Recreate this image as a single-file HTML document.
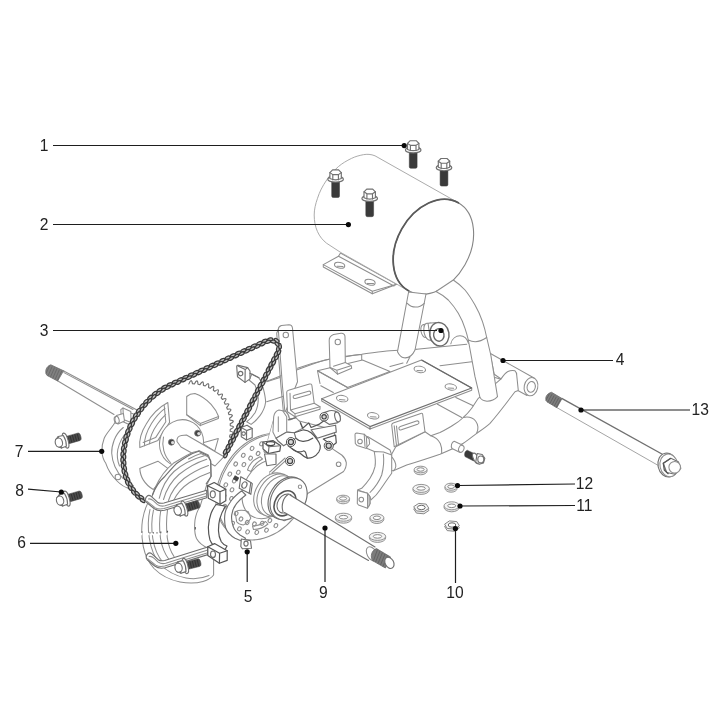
<!DOCTYPE html>
<html><head><meta charset="utf-8">
<style>
html,body{margin:0;padding:0;background:#fff;}
body{width:720px;height:720px;overflow:hidden;font-family:"Liberation Sans",sans-serif;}
svg{display:block;position:absolute;left:0;top:0;filter:blur(.45px);}
.l{stroke:#8e8e8e;stroke-width:1.05;fill:none;stroke-linecap:round;stroke-linejoin:round;}
.lw{stroke:#8e8e8e;stroke-width:1.05;fill:#fff;stroke-linecap:round;stroke-linejoin:round;}
.m{stroke:#707070;stroke-width:1.15;fill:none;stroke-linecap:round;stroke-linejoin:round;}
.mw{stroke:#707070;stroke-width:1.15;fill:#fff;stroke-linecap:round;stroke-linejoin:round;}
.d{stroke:#555;stroke-width:1.2;fill:none;stroke-linecap:round;stroke-linejoin:round;}
.dw{stroke:#555;stroke-width:1.2;fill:#fff;stroke-linecap:round;stroke-linejoin:round;}
.k{fill:#3a3a3a;stroke:#3a3a3a;stroke-width:.5;stroke-linejoin:round;}
.ld{stroke:#1e1e1e;stroke-width:1.2;fill:none;}
.dot{fill:#0a0a0a;}
text{font-family:"Liberation Sans",sans-serif;font-size:15.6px;fill:#222;}
</style></head><body>
<svg width="720" height="720" viewBox="0 0 720 720">
<rect width="720" height="720" fill="#fff"/>
<defs>
<g id="bolt">
<rect class="k" x="-3.9" y="1" width="7.8" height="17.3" rx="1.6"/>
<ellipse class="mw" cx="0" cy="0" rx="7.8" ry="2.9"/>
<path class="mw" d="M-5.7-.6V-6.6L-3-9.3H3L5.7-6.6V-.6Q0 2-5.7-.6Z"/>
<path class="m" d="M-5.7-6.6L-2.8-4.6H2.8L5.7-6.6M-2.8-4.6V.6M2.8-4.6V.6"/>
</g>
</defs>
<!-- 10_tank.svg -->
<g id="tank">
<!-- bracket under tank -->
<path class="lw" d="M323.3 264.6L338.5 256.2L340.5 253L396.8 284.3L372.3 293.8L323.3 267Z"/>
<path class="l" d="M323.3 264.6L372.3 291.2L396.8 284.3M372.3 291.2V293.8M338.5 256.2L394 286"/>
<ellipse class="l" cx="339.6" cy="265.2" rx="5.2" ry="2.8" transform="rotate(12 339.6 265.2)"/>
<ellipse class="l" cx="370" cy="282.3" rx="5.2" ry="2.8" transform="rotate(12 370 282.3)"/>
<path class="l" d="M337 266.3L343 266.5M367.5 283.4L373.5 283.6"/>
<!-- body -->
<path class="lw" style="stroke:#a6a6a6;stroke-width:.95" d="M458.3 202.8L375 155.8C371 154.2 367 154 363.3 154.7C359 155.5 355 156.7 351.7 158.3C346.5 160.8 342 163.5 338.3 166.7C334 170.5 330 175 326.7 180C322.5 186 319.5 192 317.5 198.3C315.5 204 314.2 209.5 314.2 215C314.2 221 315.2 226.5 317.5 231.7C319.7 236.5 322.8 240.3 326.7 243.3L340.8 252.5L408.5 290.8Z"/>
<!-- front face -->
<ellipse cx="433.4" cy="246.8" rx="36.3" ry="50.5" transform="rotate(29.5 433.4 246.8)" fill="#fff" stroke="#858585" stroke-width="1.1"/>
<path d="M458.3 202.8A36.3 50.5 29.5 0 0 408.5 290.8" fill="none" stroke="#5a5a5a" stroke-width="1.8" stroke-linecap="round"/>
<!-- bolts -->
<use href="#bolt" x="413.2" y="150"/>
<use href="#bolt" x="444" y="167.8"/>
<use href="#bolt" x="335.6" y="179.2"/>
<use href="#bolt" x="369.7" y="198.4"/>
</g>

<!-- 20_frame.svg -->
<g id="frame">
<!-- rear curved tube -->
<path class="l" d="M264 382C266 381.3 268 380.7 270 380C280 376.5 288 373 296.7 370C306 366.5 315 363 325 360C338 357 350 355.3 361.7 354.2C372 353 381 351.5 390 350.8L416.7 349.2"/>
<path class="l" d="M297.5 368.3C308 364.5 318 361.5 329.2 359.2M345.8 356.7C351 355.6 356 354.8 361.7 354.6V360"/>
<path class="l" d="M266.7 381.7L280 377.5M266.7 401.7L283.5 396.2"/>
<!-- rear straight cross tube + bump -->
<path class="l" d="M416.7 349.2L466.7 344.2M440 365.8L471.7 361.7M450.8 343.8C452 338.5 456 335.8 460 335.8C464 335.8 467 338.5 468.5 343.3"/>
<path class="l" d="M406.7 363.3L410 356.7M403 363L390 366.5"/>
<!-- right tube (4) -->
<path class="lw" d="M490 353.3L534.5 378.2L527 395.5L518.3 390.8L494.2 374.2Z"/>
<ellipse class="lw" cx="531" cy="386.7" rx="6.8" ry="9.2" transform="rotate(12 531 386.7)"/>
<ellipse class="l" cx="531.2" cy="386.9" rx="4.1" ry="5.4" transform="rotate(12 531.2 386.9)"/>
<!-- lower U tube right part -->
<path class="lw" d="M495.8 383.3L500.8 379.2C503 376 505 373 507.5 371.7C510 370.5 513 370.3 515 370.8C516.3 372 516.7 373.5 516.7 375L518.3 390.5L515 391.7L510 398.3C503 407.5 497 415.5 490 423.3C486 427 481 430.3 476.7 433.3C472 436.8 468 440.3 463.3 443.3C456 447.5 448 451 440 454.2C429 458 418 461.5 406.7 465L393.3 470.8C388 471 385 467 385 463.3C385.2 459.5 388 457.5 390.8 455.8L395.8 446.7L425 431.7L430.8 435.8L440 432.5C444.5 430.2 449 427.8 453.3 425C457 422.8 460.5 420.3 463.3 417.5C466.5 414.6 469.3 411.6 471.7 408.3C474 405 476 401.6 478.3 398.3Z"/>
<path class="l" d="M495 377.5L500.8 379.2M463.3 417.5C468 416.5 473 418 475.6 421C478.2 424.5 478.5 429 476.7 433.3M430.8 435.8C435 437 438.5 440 440.3 443.5C441.8 447 442 450.5 441.7 453.5"/>
<path class="l" d="M390.8 455.8C394 459 396 463 395.8 466.5C395.5 468.5 394.5 470 393.3 470.8M437.5 404.2L461.7 417.5M455.8 397.5L473.3 405.8"/>
<!-- stub + small bolt -->
<path class="lw" d="M454.2 441.3L462.8 445.3L459.6 452.2L452 448.5C450.5 446 451.5 442.5 454.2 441.3Z"/>
<ellipse class="lw" cx="461.3" cy="448.8" rx="2.6" ry="3.6" transform="rotate(20 461.3 448.8)"/>
<g transform="translate(1.2 1)">
<path class="k" d="M466 449.2L475.5 453.8L472.5 460L463.8 455.6C462.8 453 463.6 450.2 466 449.2Z"/>
<ellipse class="mw" cx="474.6" cy="457.3" rx="2.4" ry="5.6" transform="rotate(-25 474.6 457.3)"/>
<path class="mw" d="M476 452.5L481 453.5L483.6 457.3L482.2 462L478 463.3L474.5 461.2Z"/>
<ellipse class="mw" cx="479.6" cy="458.4" rx="3" ry="3.4"/>
</g>
<!-- arch tube -->
<path class="lw" d="M436 291.5C440 293.5 444 296 448.3 300C452 304 455.5 308.5 458.3 313.3C461 318 463.3 323 465 328.3C466.3 332 467.4 336 468.3 340L475 376.7L480 397.5C481.5 400 484 401 487 401.2C491 401.2 495 399.5 497.5 396.7L490.8 355L486.7 337.5C485.6 332 484.2 326.8 482.5 321.7C480.5 315.8 478 310.2 475 305C472 299.8 468.8 294.6 465 290C461.5 286 457.5 282.8 453.3 280Z"/>
<path class="l" d="M468.3 340C474 342.8 481 341.5 486.7 337.5"/>
<!-- post -->
<path class="lw" d="M408.6 292L397.5 351.7C399 355 401 357.2 404 357.8C408 358.3 412.5 355.5 415 350L426 294Z"/>
<path class="l" d="M407.3 303.3C412 308.3 419 308.3 424.3 303.3"/>
<!-- bushing 3 -->
<ellipse class="lw" cx="424.6" cy="331" rx="3.6" ry="6.6" transform="rotate(-12 424.6 331)"/>
<path class="lw" d="M424 324.5L431 323L433 340L426 337.6Z" stroke="none"/>
<ellipse class="lw" cx="428.6" cy="331.7" rx="4.6" ry="8.6" transform="rotate(-12 428.6 331.7)"/>
<path class="lw" d="M428 323.2L437 322.5L439 345L430.5 340.2Z" stroke="none"/>
<ellipse cx="439.4" cy="334.2" rx="9.6" ry="11.8" transform="rotate(-10 439.4 334.2)" fill="#fff" stroke="#6a6a6a" stroke-width="1.4"/>
<ellipse cx="438.8" cy="335" rx="5.2" ry="6.2" transform="rotate(-10 438.8 335)" fill="none" stroke="#6a6a6a" stroke-width="1.4"/>

<!-- box behind plate -->
<path class="lw" d="M317.5 370.8L362.5 360C372 364 381 368 390 371.5L347.5 387.5Z"/>
<path class="l" d="M317.5 370.8L320 383.5M320.8 385.8L333.3 392.5M317.5 370.8L347.5 387.5"/>
<!-- plate -->
<path class="lw" d="M321.7 398.8L421.5 360L471.7 388V390.3L370 429L321.7 401Z"/>
<path d="M421.5 360L471.7 388" fill="none" stroke="#6a6a6a" stroke-width="1.3" stroke-linejoin="round"/>
<path class="m" d="M321.7 398.8L370 426.6L471.7 388M370 426.6V429"/>
<g class="l">
<ellipse cx="342.2" cy="398.6" rx="5.8" ry="3.1" transform="rotate(10 342.2 398.6)"/><path d="M339.5 399.6L345 399.9"/>
<ellipse cx="419.8" cy="369.4" rx="5.8" ry="3.1" transform="rotate(10 419.8 369.4)"/><path d="M417 370.4L422.6 370.7"/>
<ellipse cx="450.8" cy="387" rx="5.8" ry="3.1" transform="rotate(10 450.8 387)"/><path d="M448 388L453.6 388.3"/>
<ellipse cx="373.2" cy="415.8" rx="5.8" ry="3.1" transform="rotate(10 373.2 415.8)"/><path d="M370.4 416.8L376 417.1"/>
</g>
<!-- center upright tab -->
<path class="lw" d="M329.2 340.8C329 337.5 331 335.5 333.5 334.5L341 333.2C343.5 333 345 334.5 345 336.7L345.3 362.5L351.2 365.6L351.7 368.3L337.5 374.2L330 367.5Z"/>
<path class="l" d="M330 367.5L336.8 370.2L350.8 365.8M336.8 370.2L337.5 374.2M345.3 362.5L333.5 366.2"/>
<circle class="l" cx="337.8" cy="342" r="2.7"/>
<!-- left upright tab -->
<path class="lw" d="M278.3 329.2C278.5 327 280 326 281.5 325.6L289 324.7C291.3 324.8 292.3 326.5 292.5 328.3L297.5 381.7L285 413L282.5 386.7Z"/>
<path class="l" d="M276.7 333.3L281 387L283.5 413M278.3 329.2L276.7 333.3"/>
<circle class="l" cx="285.8" cy="335" r="2.7"/>
<!-- slotted bracket left -->
<path class="lw" d="M286.7 392.3C286.7 391 287.5 390.4 288.5 390.2L309.5 384C311 383.7 311.7 384.3 311.9 385.5L314.2 403.3L320 406.7V409.2L295 416.7L287.5 411.7Z"/>
<path class="l" d="M290 393.3L290.5 410L314.2 403.3M290.5 410L295 413.8L320 406.7M295 413.8V416.7"/>
<path class="l" d="M294.5 395.2L308.5 391.2C311 390.6 311.8 393.6 309.5 394.4L295.5 398.4C293 399 292.2 396 294.5 395.2Z"/>
<!-- slotted bracket right -->
<path class="lw" d="M391.7 425C391.7 424 392.3 423.4 393.2 423L420.8 413.4C422 413 422.6 413.5 422.7 414.5L425 431.7L394.2 446.7Z"/>
<path class="l" d="M394.2 425.8L396.5 445.5M396.5 426L398.5 444.5"/>
<path class="l" d="M400.3 426.6L416.5 421C419 420.3 420 423.3 417.6 424.2L401.4 429.8C398.8 430.6 397.8 427.5 400.3 426.6Z"/>
</g>

<!-- 30_hardware.svg -->
<g id="hardware">
<ellipse cx="420.6" cy="470.9" rx="6.5" ry="3.9" fill="#e8e8e8" stroke="#8a8a8a" stroke-width=".9"/><ellipse cx="420.6" cy="469.5" rx="6.5" ry="3.3" fill="#f4f4f4" stroke="#8a8a8a" stroke-width=".9"/><ellipse cx="420.6" cy="469.5" rx="3.5" ry="1.7" fill="#fff" stroke="#7a7a7a" stroke-width=".9"/>
<ellipse cx="421.1" cy="489.79999999999995" rx="8.2" ry="4.6" fill="#e8e8e8" stroke="#8a8a8a" stroke-width=".9"/><ellipse cx="421.1" cy="488.4" rx="8.2" ry="3.9999999999999996" fill="#f4f4f4" stroke="#8a8a8a" stroke-width=".9"/><ellipse cx="421.1" cy="488.4" rx="4.2" ry="1.8" fill="#fff" stroke="#7a7a7a" stroke-width=".9"/>
<polygon points="428.9,510.5 423.9,513.8 416.4,513.1 413.7,508.9 418.7,505.6 426.2,506.3" fill="#eee" stroke="#7a7a7a" stroke-width=".9" stroke-linejoin="round"/><polygon points="428.9,508.3 423.9,511.6 416.4,510.9 413.7,506.7 418.7,503.4 426.2,504.1" fill="#f6f6f6" stroke="#7a7a7a" stroke-width=".9" stroke-linejoin="round"/><ellipse cx="421.3" cy="507.5" rx="3.9" ry="2.2" fill="#fff" stroke="#6a6a6a" stroke-width="1"/>
<ellipse cx="451.1" cy="488.09999999999997" rx="6.2" ry="4.1" fill="#e8e8e8" stroke="#8a8a8a" stroke-width=".9"/><ellipse cx="451.1" cy="486.7" rx="6.2" ry="3.4999999999999996" fill="#f4f4f4" stroke="#8a8a8a" stroke-width=".9"/><ellipse cx="451.1" cy="486.7" rx="3.3" ry="1.8" fill="#fff" stroke="#7a7a7a" stroke-width=".9"/>
<ellipse cx="451.7" cy="507.2" rx="7.7" ry="4.6" fill="#e8e8e8" stroke="#8a8a8a" stroke-width=".9"/><ellipse cx="451.7" cy="505.8" rx="7.7" ry="3.9999999999999996" fill="#f4f4f4" stroke="#8a8a8a" stroke-width=".9"/><ellipse cx="451.7" cy="505.8" rx="4" ry="1.8" fill="#fff" stroke="#7a7a7a" stroke-width=".9"/>
<polygon points="459.4,528.0 454.6,531.3 447.2,530.6 444.6,526.4 449.4,523.1 456.8,523.8" fill="#eee" stroke="#7a7a7a" stroke-width=".9" stroke-linejoin="round"/><polygon points="459.4,525.8 454.6,529.1 447.2,528.4 444.6,524.2 449.4,520.9 456.8,521.6" fill="#f6f6f6" stroke="#7a7a7a" stroke-width=".9" stroke-linejoin="round"/><ellipse cx="452" cy="525" rx="3.8" ry="2.2" fill="#fff" stroke="#6a6a6a" stroke-width="1"/>
<ellipse cx="343.1" cy="499.9" rx="6.5" ry="3.9" fill="#e8e8e8" stroke="#8a8a8a" stroke-width=".9"/><ellipse cx="343.1" cy="498.5" rx="6.5" ry="3.3" fill="#f4f4f4" stroke="#8a8a8a" stroke-width=".9"/><ellipse cx="343.1" cy="498.5" rx="3.5" ry="1.7" fill="#fff" stroke="#7a7a7a" stroke-width=".9"/>
<ellipse cx="343.5" cy="518.6" rx="8.2" ry="4.6" fill="#e8e8e8" stroke="#8a8a8a" stroke-width=".9"/><ellipse cx="343.5" cy="517.2" rx="8.2" ry="3.9999999999999996" fill="#f4f4f4" stroke="#8a8a8a" stroke-width=".9"/><ellipse cx="343.5" cy="517.2" rx="4.2" ry="1.8" fill="#fff" stroke="#7a7a7a" stroke-width=".9"/>
<ellipse cx="376.9" cy="519.1999999999999" rx="7" ry="4.3" fill="#e8e8e8" stroke="#8a8a8a" stroke-width=".9"/><ellipse cx="376.9" cy="517.8" rx="7" ry="3.6999999999999997" fill="#f4f4f4" stroke="#8a8a8a" stroke-width=".9"/><ellipse cx="376.9" cy="517.8" rx="3.6" ry="1.8" fill="#fff" stroke="#7a7a7a" stroke-width=".9"/>
<ellipse cx="377.5" cy="537.8" rx="8.2" ry="4.6" fill="#e8e8e8" stroke="#8a8a8a" stroke-width=".9"/><ellipse cx="377.5" cy="536.4" rx="8.2" ry="3.9999999999999996" fill="#f4f4f4" stroke="#8a8a8a" stroke-width=".9"/><ellipse cx="377.5" cy="536.4" rx="4.2" ry="1.8" fill="#fff" stroke="#7a7a7a" stroke-width=".9"/>
</g>
<!-- 32_bolt13.svg -->
<g id="bolt13">
<!-- shaft -->
<path d="M561.7 398.3L665.5 456L659.2 466L556.7 407.5Z" fill="#fff" stroke="none"/>
<path d="M556.7 407.5L659.2 466" fill="none" stroke="#a5a5a5" stroke-width="1"/>
<path d="M561.7 398.3L665.5 456" fill="none" stroke="#707070" stroke-width="1.4"/>
<!-- thread -->
<path d="M551.5 392.3L562 398.5L556.8 407.7L547 401.8C544.8 399.5 545.2 394 551.5 392.3Z" fill="#7c7c7c" stroke="#6a6a6a" stroke-width=".8" stroke-linejoin="round"/>
<path d="M549.6 393.5L545.8 400.6M552 394.2L547.6 402.3M554.2 395.5L549.8 403.6M556.4 396.8L552 404.9M558.6 398.1L554.2 406.2M560.6 399.3L556.2 407.4" stroke="#585858" stroke-width=".7" fill="none"/>
<!-- head -->
<ellipse class="mw" cx="667.6" cy="465" rx="9.6" ry="12" transform="rotate(-12 667.6 465)"/>
<ellipse class="lw" cx="669" cy="465.4" rx="9" ry="11.4" transform="rotate(-12 669 465.4)"/>
<path class="mw" d="M663.3 463.3L670.8 458.3L678.3 461.7L680.8 468.3L675 474.2L666.7 472.5Z"/>
<path d="M670.8 458.3L663.3 463.3L664.3 470L668.5 474" fill="none" stroke="#555" stroke-width="1.3" stroke-linejoin="round"/>
<circle class="lw" cx="674.7" cy="467.3" r="5.8"/>
</g>

<!-- 36_hook.svg -->
<g id="hook">
<!-- flat strip to tube -->
<path class="lw" d="M367.5 436.5L390 450L391.7 455L390 458L366 448Z"/>
<!-- arm -->
<path class="lw" d="M374.2 451.5C375.5 458 375.8 462 375 466.7C374 471 372.5 474.5 370 478.3C367.5 482 364.5 485.5 361.7 488.3L357.5 490L367.5 493.3L370 496.7L370.8 500C374.5 497 377.5 494 380 490C383.5 485 387.5 479 391.7 473.3L391.7 455L383.5 452Z"/>
<path class="l" d="M383.3 454C384.3 461 383.5 468 381.7 475C379 482 375 487.5 370 492.5"/>
<!-- top tab -->
<path class="lw" d="M355 434.5C355 433.5 355.7 433 356.7 433L364.2 434.2L369.2 439.2L369.6 444L365.8 448.3L357 445.4L355.3 443.5Z"/>
<path class="l" d="M364.2 434.2L365 446.5M366.3 436.3L367 447"/>
<circle class="l" cx="360" cy="441.5" r="2.3"/>
<!-- bottom tab -->
<path class="lw" d="M357.5 490.5L367.5 493.3L370 496.7L370.3 503.5L367.5 508.3L358.5 505L357.3 503.5Z"/>
<path class="l" d="M367.5 493.3L367.6 508M369 495.2L369.2 505.8"/>
<circle class="l" cx="361.3" cy="499.6" r="2.3"/>
</g>

<!-- 40_leftaxle.svg -->
<g id="leftaxle">
<!-- shaft -->
<path d="M63.3 370.8L137 410L128 424L57.5 380.8Z" fill="#fff" stroke="none"/>
<path class="l" d="M63.3 370.8L137 410"/>
<path class="l" d="M57.5 380.8L114 414.5M64 372.6L133 409.5"/>
<path d="M50.8 364.8L63.6 370.8L57.6 381L47 375.4C44.6 372.5 45.5 366.5 50.8 364.8Z" fill="#808080" stroke="#707070" stroke-width=".8" stroke-linejoin="round"/>
<path d="M49.5 365.8L46 373.5M52.2 366.4L48.2 375.6M54.6 367.5L50.5 376.9M57 368.6L52.8 378.2M59.4 369.7L55.1 379.5M61.8 370.8L57.4 380.7" stroke="#606060" stroke-width=".7" fill="none"/>
<!-- hub flange 7 -->
<path class="lw" d="M128 412C121 414.5 116.5 419.5 113.3 425C110 430 106 434 104.2 438.3C102.5 442.5 101.8 447 102 451.7C102.2 456 103.5 460 105.8 463.3C108 470 112 476 117 481C121 485 125 487.5 130 489L150 470L150 420Z"/>
<path class="l" d="M123.3 427.5C119 431 116 435.5 114.2 440C112.5 444.5 111.5 449 111.7 453.3C112 458 113 462.5 115 466.7C117 471 119.5 475 123 478.5M128.3 430C123.5 435 119.5 442 117.8 449.5C116.8 455 117.5 461 119.5 466"/>
<circle class="l" cx="117.9" cy="477" r="2.8"/>
<!-- tab + cylinder -->
<path class="lw" d="M120.8 409.6L123 408L130.8 411.5L131 422L129 424.5L121.5 421Z"/>
<path class="l" d="M123 408L123.4 419.5L131 422.4"/>
<path class="lw" d="M116.5 415.6L123.4 413.4L124.5 421L118 424C115 423.5 113.5 418 116.5 415.6Z"/>
<ellipse class="l" cx="116.7" cy="419.9" rx="2.4" ry="3.6" transform="rotate(-15 116.7 419.9)"/>
</g>

<!-- 42_hook2.svg -->
<g id="hook2">
<!-- arc -->
<path class="lw" d="M252 374L258.9 377.8C261.5 381 262.8 384.5 263.3 388.3C264.5 393 265.6 397.5 265.6 402.2C265 407 263 411.5 260 415.6C257.5 419 254.5 422 251.1 424.4L246.7 421.7C250 419.5 253 416 255.2 412.5C257.2 408.5 258.3 403.5 258.3 398.3C258 393.5 256.8 389 255 385L249 380Z"/>
<!-- top tab -->
<path class="mw" d="M236.7 366.6C236.7 365.6 237.4 365.2 238.4 365.4L247.6 367.6L250 371V378.9L245 382.4L237.5 376.7Z"/>
<path class="m" d="M247.6 367.6L245.2 369.6L245 382.4M245.2 369.6L238 366"/>
<circle class="m" cx="240.6" cy="373.6" r="2.2"/>
<path class="m" d="M250 373.3L258.9 377.8"/>
<!-- bottom tab -->
<path class="mw" d="M241.1 427.5L247 425.2L252.2 428.5V437.5L246.5 440L241.3 436.8Z"/>
<path class="m" d="M241.1 427.5L246.6 430.6L252.2 428.5M246.6 430.6L246.5 440"/>
<circle class="m" cx="243.6" cy="433.6" r="1.8"/>
</g>

<!-- 44_sprocket.svg -->
<g id="sprocket">
<ellipse cx="178.6" cy="443.0" rx="46.9" ry="63.39999999999999" transform="rotate(31.4 178.6 443.0)" fill="#fff" stroke="none"/>
<path class="m" stroke-width="1" d="M188.9 383.9Q191.4 377.3 192.5 383.8L194.4 383.9Q197.6 377.6 198.0 384.2L199.9 384.6Q203.7 378.7 203.4 385.4L205.2 386.0Q209.7 380.7 208.5 387.4L210.2 388.3Q215.2 383.6 213.3 390.2L214.8 391.3Q220.3 387.3 217.5 393.7L218.9 395.1Q224.8 391.8 221.2 397.8L222.4 399.4Q228.5 396.8 224.3 402.5L225.2 404.2Q231.6 402.3 226.7 407.5L227.4 409.3Q233.9 408.2 228.4 412.8L228.9 414.6Q235.5 414.2 229.6 418.2L229.9 420.1Q236.5 420.4 230.2 423.8L230.3 425.7Q236.8 426.6 230.3 429.4L230.2 431.3Q236.6 432.8 229.9 435.0L229.6 436.9Q235.9 439.0 229.0 440.5L228.6 442.4Q234.7 445.1 227.7 445.9L227.2 447.8Q233.1 451.1 226.1 451.3L225.4 453.1"/>
<path class="lw" d="M186.7 396.5C189 394.5 192 393.6 194.9 393.5C202 396 207 400 211.1 404.3C214.5 408 217 412 218.6 416.5L218.3 418.6L200.3 425.6L186.7 414.8Z"/>
<path class="l" d="M186.7 414.8L200.3 423.4L218.6 416.5M200.3 423.4V425.6"/>
<path class="lw" d="M167.8 402.5L169.6 422.4L157.9 440.4L139.8 447.6C139 440 141.5 431.5 146.1 424.2C151 415.5 158.5 407.5 167.8 402.5Z"/>
<path class="l" d="M164.2 405.5L165.8 421.8L155.6 437.6L143.2 442.5M144.5 445.7C144 438 147.5 430 151.5 423.5C155.5 417 160 412 165 408.3M149.5 443.8C150 436 153.5 429.5 157.5 424C160.3 420 163 417 165.6 414.6"/>
<path class="lw" d="M139.8 468.4L157.9 461.2L167.8 468.4C164 476 159 483 153.3 489.5C149 487 145.5 483.5 143.4 480.1C141 476.5 140 472.5 139.8 468.4Z"/>
<path class="lw" d="M202.1 443.1L218.3 438.6L214.7 451.3Z"/>
<ellipse class="lw" cx="181.5" cy="443" rx="21.8" ry="23.5" transform="rotate(20 181.5 443)"/>
<path class="l" d="M163.5 437C161.5 446 164 456 170.5 462.5"/>
<path class="lw" d="M177 441.5C176.5 438 178.5 435.8 181.5 435.4L186.5 435L224 456.7L215 466L181 447Z"/>
<circle cx="171.4" cy="442.2" r="3" fill="#444" stroke="#777" stroke-width=".8"/><circle cx="172.6" cy="442.6" r="1.6" fill="#ddd"/>
<circle cx="197.6" cy="433.2" r="3" fill="#444" stroke="#777" stroke-width=".8"/><circle cx="198.8" cy="433.6" r="1.6" fill="#ddd"/>
</g>
<!-- 46_chain.svg -->
<g id="chain" stroke="#3a3a3a" stroke-width="1.25" fill="#c2c2c2">
<ellipse cx="225.6" cy="455.3" rx="2.7" ry="1.45" transform="rotate(-63 225.6 455.3)"/>
<ellipse cx="225.2" cy="451.7" rx="2.7" ry="1.45" transform="rotate(-63 225.2 451.7)"/>
<ellipse cx="228.4" cy="450.0" rx="2.7" ry="1.45" transform="rotate(-63 228.4 450.0)"/>
<ellipse cx="227.9" cy="446.6" rx="2.7" ry="1.45" transform="rotate(-63 227.9 446.6)"/>
<ellipse cx="231.0" cy="444.9" rx="2.7" ry="1.45" transform="rotate(-63 231.0 444.9)"/>
<ellipse cx="230.5" cy="441.5" rx="2.7" ry="1.45" transform="rotate(-63 230.5 441.5)"/>
<ellipse cx="233.7" cy="439.8" rx="2.7" ry="1.45" transform="rotate(-63 233.7 439.8)"/>
<ellipse cx="233.3" cy="436.2" rx="2.7" ry="1.45" transform="rotate(-63 233.3 436.2)"/>
<ellipse cx="236.3" cy="434.7" rx="2.7" ry="1.45" transform="rotate(-63 236.3 434.7)"/>
<ellipse cx="235.9" cy="431.1" rx="2.7" ry="1.45" transform="rotate(-63 235.9 431.1)"/>
<ellipse cx="239.0" cy="429.6" rx="2.7" ry="1.45" transform="rotate(-63 239.0 429.6)"/>
<ellipse cx="238.6" cy="426.0" rx="2.7" ry="1.45" transform="rotate(-63 238.6 426.0)"/>
<ellipse cx="241.7" cy="424.5" rx="2.7" ry="1.45" transform="rotate(-63 241.7 424.5)"/>
<ellipse cx="241.3" cy="420.9" rx="2.7" ry="1.45" transform="rotate(-63 241.3 420.9)"/>
<ellipse cx="244.4" cy="419.1" rx="2.7" ry="1.45" transform="rotate(-63 244.4 419.1)"/>
<ellipse cx="243.9" cy="415.8" rx="2.7" ry="1.45" transform="rotate(-63 243.9 415.8)"/>
<ellipse cx="247.1" cy="414.0" rx="2.7" ry="1.45" transform="rotate(-63 247.1 414.0)"/>
<ellipse cx="246.6" cy="410.6" rx="2.7" ry="1.45" transform="rotate(-63 246.6 410.6)"/>
<ellipse cx="249.7" cy="408.9" rx="2.7" ry="1.45" transform="rotate(-63 249.7 408.9)"/>
<ellipse cx="249.4" cy="405.3" rx="2.7" ry="1.45" transform="rotate(-63 249.4 405.3)"/>
<ellipse cx="252.4" cy="403.8" rx="2.7" ry="1.45" transform="rotate(-63 252.4 403.8)"/>
<ellipse cx="252.0" cy="400.2" rx="2.7" ry="1.45" transform="rotate(-63 252.0 400.2)"/>
<ellipse cx="255.1" cy="398.7" rx="2.7" ry="1.45" transform="rotate(-63 255.1 398.7)"/>
<ellipse cx="254.7" cy="395.1" rx="2.7" ry="1.45" transform="rotate(-63 254.7 395.1)"/>
<ellipse cx="257.7" cy="393.6" rx="2.7" ry="1.45" transform="rotate(-63 257.7 393.6)"/>
<ellipse cx="257.3" cy="390.0" rx="2.7" ry="1.45" transform="rotate(-63 257.3 390.0)"/>
<ellipse cx="260.5" cy="388.2" rx="2.7" ry="1.45" transform="rotate(-63 260.5 388.2)"/>
<ellipse cx="260.0" cy="384.9" rx="2.7" ry="1.45" transform="rotate(-63 260.0 384.9)"/>
<ellipse cx="263.2" cy="383.1" rx="2.7" ry="1.45" transform="rotate(-63 263.2 383.1)"/>
<ellipse cx="262.7" cy="379.8" rx="2.7" ry="1.45" transform="rotate(-63 262.7 379.8)"/>
<ellipse cx="265.8" cy="378.0" rx="2.7" ry="1.45" transform="rotate(-63 265.8 378.0)"/>
<ellipse cx="265.3" cy="374.7" rx="2.7" ry="1.45" transform="rotate(-63 265.3 374.7)"/>
<ellipse cx="268.5" cy="372.9" rx="2.7" ry="1.45" transform="rotate(-63 268.5 372.9)"/>
<ellipse cx="268.1" cy="369.3" rx="2.7" ry="1.45" transform="rotate(-63 268.1 369.3)"/>
<ellipse cx="271.1" cy="367.8" rx="2.7" ry="1.45" transform="rotate(-63 271.1 367.8)"/>
<ellipse cx="270.7" cy="364.2" rx="2.7" ry="1.45" transform="rotate(-63 270.7 364.2)"/>
<ellipse cx="273.8" cy="362.7" rx="2.7" ry="1.45" transform="rotate(-63 273.8 362.7)"/>
<ellipse cx="273.4" cy="359.1" rx="2.7" ry="1.45" transform="rotate(-63 273.4 359.1)"/>
<ellipse cx="276.6" cy="357.4" rx="2.7" ry="1.45" transform="rotate(-63 276.6 357.4)"/>
<ellipse cx="276.1" cy="354.0" rx="2.7" ry="1.45" transform="rotate(-64 276.1 354.0)"/>
<ellipse cx="279.0" cy="352.0" rx="2.7" ry="1.45" transform="rotate(-70 279.0 352.0)"/>
<ellipse cx="278.0" cy="348.8" rx="2.7" ry="1.45" transform="rotate(-80 278.0 348.8)"/>
<ellipse cx="279.9" cy="346.1" rx="2.7" ry="1.45" transform="rotate(-99 279.9 346.1)"/>
<ellipse cx="277.0" cy="344.1" rx="2.7" ry="1.45" transform="rotate(-127 277.0 344.1)"/>
<ellipse cx="276.6" cy="340.5" rx="2.7" ry="1.45" transform="rotate(-146 276.6 340.5)"/>
<ellipse cx="273.0" cy="341.4" rx="2.7" ry="1.45" transform="rotate(-164 273.0 341.4)"/>
<ellipse cx="270.3" cy="339.3" rx="2.7" ry="1.45" transform="rotate(170 270.3 339.3)"/>
<ellipse cx="267.8" cy="341.8" rx="2.7" ry="1.45" transform="rotate(165 267.8 341.8)"/>
<ellipse cx="264.5" cy="340.9" rx="2.7" ry="1.45" transform="rotate(155 264.5 340.9)"/>
<ellipse cx="262.6" cy="344.0" rx="2.7" ry="1.45" transform="rotate(155 262.6 344.0)"/>
<ellipse cx="259.3" cy="343.3" rx="2.7" ry="1.45" transform="rotate(155 259.3 343.3)"/>
<ellipse cx="257.4" cy="346.4" rx="2.7" ry="1.45" transform="rotate(155 257.4 346.4)"/>
<ellipse cx="253.8" cy="345.8" rx="2.7" ry="1.45" transform="rotate(155 253.8 345.8)"/>
<ellipse cx="252.2" cy="348.8" rx="2.7" ry="1.45" transform="rotate(155 252.2 348.8)"/>
<ellipse cx="248.6" cy="348.2" rx="2.7" ry="1.45" transform="rotate(155 248.6 348.2)"/>
<ellipse cx="246.9" cy="351.2" rx="2.7" ry="1.45" transform="rotate(155 246.9 351.2)"/>
<ellipse cx="243.4" cy="350.6" rx="2.7" ry="1.45" transform="rotate(155 243.4 350.6)"/>
<ellipse cx="241.7" cy="353.6" rx="2.7" ry="1.45" transform="rotate(155 241.7 353.6)"/>
<ellipse cx="238.1" cy="353.0" rx="2.7" ry="1.45" transform="rotate(155 238.1 353.0)"/>
<ellipse cx="236.2" cy="356.1" rx="2.7" ry="1.45" transform="rotate(155 236.2 356.1)"/>
<ellipse cx="232.9" cy="355.4" rx="2.7" ry="1.45" transform="rotate(155 232.9 355.4)"/>
<ellipse cx="231.0" cy="358.5" rx="2.7" ry="1.45" transform="rotate(155 231.0 358.5)"/>
<ellipse cx="227.6" cy="357.8" rx="2.7" ry="1.45" transform="rotate(155 227.6 357.8)"/>
<ellipse cx="225.7" cy="360.9" rx="2.7" ry="1.45" transform="rotate(155 225.7 360.9)"/>
<ellipse cx="222.4" cy="360.2" rx="2.7" ry="1.45" transform="rotate(155 222.4 360.2)"/>
<ellipse cx="220.5" cy="363.3" rx="2.7" ry="1.45" transform="rotate(155 220.5 363.3)"/>
<ellipse cx="216.9" cy="362.7" rx="2.7" ry="1.45" transform="rotate(155 216.9 362.7)"/>
<ellipse cx="215.3" cy="365.7" rx="2.7" ry="1.45" transform="rotate(155 215.3 365.7)"/>
<ellipse cx="211.7" cy="365.1" rx="2.7" ry="1.45" transform="rotate(155 211.7 365.1)"/>
<ellipse cx="210.0" cy="368.0" rx="2.7" ry="1.45" transform="rotate(155 210.0 368.0)"/>
<ellipse cx="206.5" cy="367.5" rx="2.7" ry="1.45" transform="rotate(155 206.5 367.5)"/>
<ellipse cx="204.6" cy="370.5" rx="2.7" ry="1.45" transform="rotate(155 204.6 370.5)"/>
<ellipse cx="201.2" cy="369.9" rx="2.7" ry="1.45" transform="rotate(155 201.2 369.9)"/>
<ellipse cx="199.3" cy="372.9" rx="2.7" ry="1.45" transform="rotate(155 199.3 372.9)"/>
<ellipse cx="196.0" cy="372.3" rx="2.7" ry="1.45" transform="rotate(155 196.0 372.3)"/>
<ellipse cx="194.1" cy="375.3" rx="2.7" ry="1.45" transform="rotate(155 194.1 375.3)"/>
<ellipse cx="190.8" cy="374.7" rx="2.7" ry="1.45" transform="rotate(155 190.8 374.7)"/>
<ellipse cx="188.9" cy="377.7" rx="2.7" ry="1.45" transform="rotate(155 188.9 377.7)"/>
<ellipse cx="185.3" cy="377.2" rx="2.7" ry="1.45" transform="rotate(155 185.3 377.2)"/>
<ellipse cx="183.6" cy="380.1" rx="2.7" ry="1.45" transform="rotate(155 183.6 380.1)"/>
<ellipse cx="180.1" cy="379.6" rx="2.7" ry="1.45" transform="rotate(155 180.1 379.6)"/>
<ellipse cx="178.4" cy="382.5" rx="2.7" ry="1.45" transform="rotate(155 178.4 382.5)"/>
<ellipse cx="174.8" cy="382.0" rx="2.7" ry="1.45" transform="rotate(155 174.8 382.0)"/>
<ellipse cx="172.9" cy="385.0" rx="2.7" ry="1.45" transform="rotate(155 172.9 385.0)"/>
<ellipse cx="169.6" cy="384.4" rx="2.7" ry="1.45" transform="rotate(155 169.6 384.4)"/>
<ellipse cx="167.8" cy="387.4" rx="2.7" ry="1.45" transform="rotate(153 167.8 387.4)"/>
<ellipse cx="164.2" cy="387.1" rx="2.7" ry="1.45" transform="rotate(151 164.2 387.1)"/>
<ellipse cx="162.9" cy="390.2" rx="2.7" ry="1.45" transform="rotate(148 162.9 390.2)"/>
<ellipse cx="159.4" cy="390.1" rx="2.7" ry="1.45" transform="rotate(146 159.4 390.1)"/>
<ellipse cx="158.0" cy="393.5" rx="2.7" ry="1.45" transform="rotate(144 158.0 393.5)"/>
<ellipse cx="154.6" cy="393.6" rx="2.7" ry="1.45" transform="rotate(142 154.6 393.6)"/>
<ellipse cx="153.7" cy="396.9" rx="2.7" ry="1.45" transform="rotate(140 153.7 396.9)"/>
<ellipse cx="150.0" cy="397.5" rx="2.7" ry="1.45" transform="rotate(137 150.0 397.5)"/>
<ellipse cx="149.4" cy="400.9" rx="2.7" ry="1.45" transform="rotate(135 149.4 400.9)"/>
<ellipse cx="145.9" cy="401.6" rx="2.7" ry="1.45" transform="rotate(133 145.9 401.6)"/>
<ellipse cx="145.4" cy="405.1" rx="2.7" ry="1.45" transform="rotate(131 145.4 405.1)"/>
<ellipse cx="142.0" cy="406.0" rx="2.7" ry="1.45" transform="rotate(129 142.0 406.0)"/>
<ellipse cx="141.8" cy="409.5" rx="2.7" ry="1.45" transform="rotate(127 141.8 409.5)"/>
<ellipse cx="138.4" cy="410.7" rx="2.7" ry="1.45" transform="rotate(126 138.4 410.7)"/>
<ellipse cx="138.4" cy="414.2" rx="2.7" ry="1.45" transform="rotate(124 138.4 414.2)"/>
<ellipse cx="135.3" cy="415.4" rx="2.7" ry="1.45" transform="rotate(122 135.3 415.4)"/>
<ellipse cx="135.4" cy="418.9" rx="2.7" ry="1.45" transform="rotate(120 135.4 418.9)"/>
<ellipse cx="132.3" cy="420.5" rx="2.7" ry="1.45" transform="rotate(118 132.3 420.5)"/>
<ellipse cx="132.7" cy="424.0" rx="2.7" ry="1.45" transform="rotate(116 132.7 424.0)"/>
<ellipse cx="129.6" cy="425.8" rx="2.7" ry="1.45" transform="rotate(115 129.6 425.8)"/>
<ellipse cx="130.3" cy="429.3" rx="2.7" ry="1.45" transform="rotate(113 130.3 429.3)"/>
<ellipse cx="127.4" cy="431.3" rx="2.7" ry="1.45" transform="rotate(111 127.4 431.3)"/>
<ellipse cx="128.3" cy="434.7" rx="2.7" ry="1.45" transform="rotate(108 128.3 434.7)"/>
<ellipse cx="125.5" cy="436.8" rx="2.7" ry="1.45" transform="rotate(107 125.5 436.8)"/>
<ellipse cx="126.7" cy="440.1" rx="2.7" ry="1.45" transform="rotate(105 126.7 440.1)"/>
<ellipse cx="124.1" cy="442.4" rx="2.7" ry="1.45" transform="rotate(103 124.1 442.4)"/>
<ellipse cx="125.4" cy="445.8" rx="2.7" ry="1.45" transform="rotate(100 125.4 445.8)"/>
<ellipse cx="123.0" cy="448.2" rx="2.7" ry="1.45" transform="rotate(98 123.0 448.2)"/>
<ellipse cx="124.6" cy="451.3" rx="2.7" ry="1.45" transform="rotate(96 124.6 451.3)"/>
<ellipse cx="122.4" cy="454.2" rx="2.7" ry="1.45" transform="rotate(94 122.4 454.2)"/>
<ellipse cx="124.3" cy="457.0" rx="2.7" ry="1.45" transform="rotate(91 124.3 457.0)"/>
<ellipse cx="122.3" cy="460.0" rx="2.7" ry="1.45" transform="rotate(89 122.3 460.0)"/>
<ellipse cx="124.4" cy="462.8" rx="2.7" ry="1.45" transform="rotate(86 124.4 462.8)"/>
<ellipse cx="122.7" cy="465.9" rx="2.7" ry="1.45" transform="rotate(84 122.7 465.9)"/>
<ellipse cx="125.0" cy="468.4" rx="2.7" ry="1.45" transform="rotate(81 125.0 468.4)"/>
<ellipse cx="123.6" cy="471.6" rx="2.7" ry="1.45" transform="rotate(78 123.6 471.6)"/>
<ellipse cx="126.2" cy="474.1" rx="2.7" ry="1.45" transform="rotate(75 126.2 474.1)"/>
<ellipse cx="125.1" cy="477.3" rx="2.7" ry="1.45" transform="rotate(72 125.1 477.3)"/>
<ellipse cx="128.1" cy="479.5" rx="2.7" ry="1.45" transform="rotate(68 128.1 479.5)"/>
<ellipse cx="127.3" cy="482.8" rx="2.7" ry="1.45" transform="rotate(65 127.3 482.8)"/>
<ellipse cx="130.4" cy="484.5" rx="2.7" ry="1.45" transform="rotate(61 130.4 484.5)"/>
<ellipse cx="130.2" cy="488.0" rx="2.7" ry="1.45" transform="rotate(57 130.2 488.0)"/>
<ellipse cx="133.5" cy="489.3" rx="2.7" ry="1.45" transform="rotate(54 133.5 489.3)"/>
<ellipse cx="133.7" cy="492.7" rx="2.7" ry="1.45" transform="rotate(50 133.7 492.7)"/>
<ellipse cx="137.2" cy="493.6" rx="2.7" ry="1.45" transform="rotate(45 137.2 493.6)"/>
<ellipse cx="137.9" cy="497.0" rx="2.7" ry="1.45" transform="rotate(41 137.9 497.0)"/>
<ellipse cx="141.5" cy="497.4" rx="2.7" ry="1.45" transform="rotate(36 141.5 497.4)"/>
<ellipse cx="142.6" cy="500.6" rx="2.7" ry="1.45" transform="rotate(33 142.6 500.6)"/>
</g>
<!-- 48_disc.svg -->
<g id="disc">
<ellipse class="lw" cx="262.4" cy="486.4" rx="42.2" ry="56.4" transform="rotate(31.4 262.4 486.4)"/>
<ellipse class="lw" cx="264.0" cy="487.0" rx="42.2" ry="56.4" transform="rotate(31.4 264.0 487.0)"/>
<ellipse class="l" cx="292.3" cy="510.0" rx="1.7" ry="2.1" transform="rotate(31 292.3 510.0)"/>
<ellipse class="l" cx="284.7" cy="518.7" rx="1.7" ry="2.1" transform="rotate(31 284.7 518.7)"/>
<ellipse class="l" cx="275.9" cy="525.6" rx="1.7" ry="2.1" transform="rotate(31 275.9 525.6)"/>
<ellipse class="l" cx="266.5" cy="530.2" rx="1.7" ry="2.1" transform="rotate(31 266.5 530.2)"/>
<ellipse class="l" cx="256.8" cy="532.4" rx="1.7" ry="2.1" transform="rotate(31 256.8 532.4)"/>
<ellipse class="l" cx="247.6" cy="531.9" rx="1.7" ry="2.1" transform="rotate(31 247.6 531.9)"/>
<ellipse class="l" cx="239.4" cy="528.8" rx="1.7" ry="2.1" transform="rotate(31 239.4 528.8)"/>
<ellipse class="l" cx="232.6" cy="523.3" rx="1.7" ry="2.1" transform="rotate(31 232.6 523.3)"/>
<ellipse class="l" cx="227.6" cy="515.6" rx="1.7" ry="2.1" transform="rotate(31 227.6 515.6)"/>
<ellipse class="l" cx="224.7" cy="506.3" rx="1.7" ry="2.1" transform="rotate(31 224.7 506.3)"/>
<ellipse class="l" cx="224.1" cy="495.9" rx="1.7" ry="2.1" transform="rotate(31 224.1 495.9)"/>
<ellipse class="l" cx="225.8" cy="484.9" rx="1.7" ry="2.1" transform="rotate(31 225.8 484.9)"/>
<ellipse class="l" cx="229.8" cy="474.1" rx="1.7" ry="2.1" transform="rotate(31 229.8 474.1)"/>
<ellipse class="l" cx="235.7" cy="464.0" rx="1.7" ry="2.1" transform="rotate(31 235.7 464.0)"/>
<ellipse class="l" cx="243.3" cy="455.3" rx="1.7" ry="2.1" transform="rotate(31 243.3 455.3)"/>
<ellipse class="l" cx="252.1" cy="448.4" rx="1.7" ry="2.1" transform="rotate(31 252.1 448.4)"/>
<ellipse class="l" cx="261.5" cy="443.8" rx="1.7" ry="2.1" transform="rotate(31 261.5 443.8)"/>
<ellipse class="l" cx="271.2" cy="441.6" rx="1.7" ry="2.1" transform="rotate(31 271.2 441.6)"/>
<ellipse class="l" cx="280.4" cy="442.1" rx="1.7" ry="2.1" transform="rotate(31 280.4 442.1)"/>
<ellipse class="l" cx="288.6" cy="445.2" rx="1.7" ry="2.1" transform="rotate(31 288.6 445.2)"/>
<ellipse class="l" cx="295.4" cy="450.7" rx="1.7" ry="2.1" transform="rotate(31 295.4 450.7)"/>
<ellipse class="l" cx="300.4" cy="458.4" rx="1.7" ry="2.1" transform="rotate(31 300.4 458.4)"/>
<ellipse class="l" cx="303.3" cy="467.7" rx="1.7" ry="2.1" transform="rotate(31 303.3 467.7)"/>
<ellipse class="l" cx="303.9" cy="478.1" rx="1.7" ry="2.1" transform="rotate(31 303.9 478.1)"/>
<ellipse class="l" cx="302.2" cy="489.1" rx="1.7" ry="2.1" transform="rotate(31 302.2 489.1)"/>
<ellipse class="l" cx="298.2" cy="499.9" rx="1.7" ry="2.1" transform="rotate(31 298.2 499.9)"/>
<ellipse class="l" cx="284.1" cy="509.4" rx="1.7" ry="2.1" transform="rotate(31 284.1 509.4)"/>
<ellipse class="l" cx="277.4" cy="515.8" rx="1.7" ry="2.1" transform="rotate(31 277.4 515.8)"/>
<ellipse class="l" cx="269.9" cy="520.5" rx="1.7" ry="2.1" transform="rotate(31 269.9 520.5)"/>
<ellipse class="l" cx="262.1" cy="523.3" rx="1.7" ry="2.1" transform="rotate(31 262.1 523.3)"/>
<ellipse class="l" cx="254.4" cy="524.0" rx="1.7" ry="2.1" transform="rotate(31 254.4 524.0)"/>
<ellipse class="l" cx="247.2" cy="522.5" rx="1.7" ry="2.1" transform="rotate(31 247.2 522.5)"/>
<ellipse class="l" cx="241.0" cy="519.0" rx="1.7" ry="2.1" transform="rotate(31 241.0 519.0)"/>
<ellipse class="l" cx="236.2" cy="513.6" rx="1.7" ry="2.1" transform="rotate(31 236.2 513.6)"/>
<ellipse class="l" cx="232.9" cy="506.7" rx="1.7" ry="2.1" transform="rotate(31 232.9 506.7)"/>
<ellipse class="l" cx="231.5" cy="498.6" rx="1.7" ry="2.1" transform="rotate(31 231.5 498.6)"/>
<ellipse class="l" cx="232.0" cy="489.8" rx="1.7" ry="2.1" transform="rotate(31 232.0 489.8)"/>
<ellipse class="l" cx="234.3" cy="480.9" rx="1.7" ry="2.1" transform="rotate(31 234.3 480.9)"/>
<ellipse class="l" cx="238.3" cy="472.3" rx="1.7" ry="2.1" transform="rotate(31 238.3 472.3)"/>
<ellipse class="l" cx="243.9" cy="464.6" rx="1.7" ry="2.1" transform="rotate(31 243.9 464.6)"/>
<ellipse class="l" cx="250.6" cy="458.2" rx="1.7" ry="2.1" transform="rotate(31 250.6 458.2)"/>
<ellipse class="l" cx="258.1" cy="453.5" rx="1.7" ry="2.1" transform="rotate(31 258.1 453.5)"/>
<ellipse class="l" cx="265.9" cy="450.7" rx="1.7" ry="2.1" transform="rotate(31 265.9 450.7)"/>
<ellipse class="l" cx="273.6" cy="450.0" rx="1.7" ry="2.1" transform="rotate(31 273.6 450.0)"/>
<ellipse class="l" cx="280.8" cy="451.5" rx="1.7" ry="2.1" transform="rotate(31 280.8 451.5)"/>
<ellipse class="l" cx="287.0" cy="455.0" rx="1.7" ry="2.1" transform="rotate(31 287.0 455.0)"/>
<ellipse class="l" cx="291.8" cy="460.4" rx="1.7" ry="2.1" transform="rotate(31 291.8 460.4)"/>
<ellipse class="l" cx="295.1" cy="467.3" rx="1.7" ry="2.1" transform="rotate(31 295.1 467.3)"/>
<ellipse class="l" cx="296.5" cy="475.4" rx="1.7" ry="2.1" transform="rotate(31 296.5 475.4)"/>
<ellipse class="l" cx="296.0" cy="484.2" rx="1.7" ry="2.1" transform="rotate(31 296.0 484.2)"/>
<ellipse class="l" cx="293.7" cy="493.1" rx="1.7" ry="2.1" transform="rotate(31 293.7 493.1)"/>
<ellipse class="l" cx="289.7" cy="501.7" rx="1.7" ry="2.1" transform="rotate(31 289.7 501.7)"/>
<ellipse class="l" cx="268.0" cy="489.0" rx="23.6" ry="31.6" transform="rotate(31.4 268.0 489.0)"/>
<path class="l" d="M235 511.7C239 510 244 510 248.3 511.7L250.8 518.3C249 521.5 246 524 243.3 525C240.5 524.5 238 523.5 236.7 521.7Z"/>
<path class="l" d="M252.5 526C257 526 262 524 265.5 521.5L268 524C264 527.5 258 529.5 253.5 529.5Z"/>
<path class="l" d="M247.5 470C249 465 254 459.5 260 456.7L262.5 459C257 462 253 466.5 251 471.5Z"/>
</g>
<!-- 50_guard.svg -->
<g id="guard">
<!-- lower side body -->
<path class="lw" d="M151.7 497.5C147 503 144 511 142.5 520C141.3 528 141.5 537 143.3 546.7C145 555 148.5 562.5 154 568.5C161 575.5 170 580 180 582C188 583.5 196 583.5 203 581.5C208 580 211.5 578 213.6 575L213.6 560L208.3 548.3C203 546 199 543 196.5 538.5C194.5 534 194.3 527 195 520C196 514 198 509.5 200 506.7L206.7 485L210.8 476.7V461.7L208.3 455L199.2 450.8C194 451.5 190.5 453.2 187.5 455C182 458 177.5 460.8 173.3 463.3C166 469 159.5 478 155.5 487C154 490.5 152.6 494 151.7 497.5Z"/>
<path class="m" d="M152.5 495C155 488 159.5 481 165 476.2C169 471.5 172.5 467.5 176.2 463.8C180 461 183.5 458.5 187.5 456.2C191 454 195 452.3 198.8 451.2L207.5 455.6L210.6 460.6L211.2 476.2L206.2 483.8"/>
<!-- tread ridges upper -->
<path class="l" d="M159.2 498.3C161.5 489 166.5 478.5 174 471.5C182 464.5 193 459 204.2 455.8M163.5 499.5C166 490.5 171.5 481 179 474.5C187 468 196.5 462.5 206.7 459.2M168.5 500.5C171 492.5 176.5 484.5 184 478.5C191.5 473 200 468.5 208.5 465.5M173.5 500.8C176.5 494 182 487.5 189.5 482.5C195.5 478.5 202.5 475 210 472.5"/>
<path class="l" d="M199.2 450.8L201 453.5L209.5 457.5M201 453.5C196 455 192 457 188.5 459"/>
<!-- ridges lower -->
<path class="l" d="M150 509.5C148 518 147.8 528 149.3 538C150.8 548 154 557 160 564C167 571.5 176 576 186 578C194 579.5 202 578.5 209 575.5M153.5 510C151.5 519 151.3 529 152.8 538.5C154.3 548 157.5 556 163 562.5M160.8 510C159.3 519 159.2 529 160.5 538.5C161.8 546.5 164.5 553.5 169 559.5M167.5 510C166.3 519 166.3 529 167.3 538C168.3 545 170.3 551 174 556.5"/>
<!-- break marks -->
<path d="M140 534.2H170" stroke="#fff" stroke-width="2.2" fill="none" stroke-dasharray="2.2 1.4"/>
<path d="M142 531.6V532.6M150 532.2V533.6M153.4 532.2V533.6M157 532.2V533.6M160.8 531.6V533.2M167.5 530.8V532.4M195.3 527V529.5" stroke="#555" stroke-width="1.1" fill="none"/>
<!-- upper bar -->
<path class="mw" d="M147.3 496C148.5 494.8 150 495.3 151.5 496.6L157.5 502.2C159 503.3 161 503.6 164 503L206.7 490.2V497.8L164.5 510.3C160.5 511.2 157 510.8 154 508.5L146.5 502.2C144.8 500.2 145.3 497.5 147.3 496Z"/>
<path class="l" d="M148.5 499C150.5 498.5 152 499.5 153.5 500.8L157.5 504.6C159.5 506 162 506.5 165 505.8L206.7 493.2M146.8 501.2L155 507.6C157.5 509.2 160.5 509.4 164 508.6L206.7 496"/>
<!-- lower bar -->
<path class="mw" d="M148 553.5C149.2 552.3 150.7 552.8 152.2 554.1L158.2 559.7C159.7 560.8 161.7 561.1 164.7 560.5L207.8 547V554.6L165.2 567.8C161.2 568.7 157.7 568.3 154.7 566L147.2 559.7C145.5 557.7 146 555 148 553.5Z"/>
<path class="l" d="M149.2 556.5C151.2 556 152.7 557 154.2 558.3L158.2 562.1C160.2 563.5 162.7 564 165.7 563.3L207.8 550M147.5 558.7L155.7 565.1C158.2 566.7 161.2 566.9 164.7 566.1L207.8 552.8"/>
<!-- C bracket between blocks -->
<path class="dw" stroke-width="1.1" d="M216 504.5C213.8 507.5 212.2 510.5 211 513.5C209.5 518 208.6 522.5 208.4 526.7C208.3 531.5 208.8 536 210 540C211.5 543.5 213.8 546.5 216.7 548.3L224 551.5L227 546C224.5 545 222.5 543.6 221.3 541.7C219.6 538.5 218.6 535 218.5 531C218.4 527 218.8 523 219.7 519.2C221 514.5 223 510 225.5 506.2Z"/>
<!-- upper block -->
<path class="dw" stroke-width="1.1" d="M207.5 485.8L214.2 482.5L225.8 489.2V500.8L220 504.2L208.3 498.3Z"/>
<path class="d" stroke-width="1.1" d="M207.5 485.8L220 491.7L225.8 489.2M220 491.7V504.2"/>
<ellipse class="m" cx="212.8" cy="494.3" rx="2.5" ry="3.5"/>
<!-- lower block -->
<path class="dw" stroke-width="1.1" d="M207.8 546.8L214.5 543.6L227.2 550.7V560.4L219.4 563.3L207.8 555.6Z"/>
<path class="d" stroke-width="1.1" d="M207.8 546.8L219.6 553.3L227.2 550.7M219.6 553.3L219.4 563.3"/>
<ellipse class="m" cx="213" cy="554.3" rx="2.5" ry="3.3"/>
</g>

<!-- 52_hbolts.svg -->
<defs>
<g id="hbolt">
<path d="M4 -3.9H18.5C20.3 -3.9 20.8 -2.5 20.8 0C20.8 2.5 20.3 3.9 18.5 3.9H4Z" fill="#4c4c4c" stroke="#4c4c4c" stroke-width=".5"/><path d="M8 -3.5V3.5M10.5 -3.5V3.5M13 -3.5V3.5M15.5 -3.5V3.5M18 -3.5V3.5" stroke="#2e2e2e" stroke-width=".8" fill="none"/>
<ellipse class="mw" cx="5" cy="0" rx="2.5" ry="7.8"/>
<path class="mw" d="M4.2 -5.6L-1 -6L-4.6 -3.2V3.2L-1 6L4.2 5.6C5.3 2 5.3 -2 4.2 -5.6Z"/>
<path class="m" d="M-1 -6L-1.6 -2.8L-4.6 -3.2M-1.6 -2.8V2.8L-4.6 3.2M-1.6 2.8L-1 6"/>
<ellipse class="mw" cx="-2" cy="0" rx="3.6" ry="4.6"/>
</g>
</defs>
<g id="hbolts">
<use href="#hbolt" transform="translate(60.8 442) rotate(-16)"/>
<use href="#hbolt" transform="translate(62 500) rotate(-16)"/>
<use href="#hbolt" transform="translate(179.6 510) rotate(-17)"/>
<use href="#hbolt" transform="translate(180.5 567.2) rotate(-14)"/>
</g>

<!-- 54_clip.svg -->
<g id="clip5">
<rect x="233.5" y="476.3" width="5" height="4.2" fill="#444" transform="rotate(30 236 478.5)"/>
<!-- band -->
<path class="mw" d="M241.7 490.8C237.5 494 234 497 231.7 500C228.5 504 226 508.5 225 513.3C224.2 518.5 224.5 523.5 225.8 528.3C227.5 532.5 231 536 235 538.3L243.3 541.7L245.5 538.2L240 535C236.5 532.5 234.3 530 233.3 526.7C231.8 523 231.3 519 231.7 515C232.3 510.5 234 506.5 236.7 503.3C239 500.5 242.5 497.5 245.8 495Z"/>
<!-- top tab -->
<path class="mw" d="M240.8 476.7L250.8 482.5L249.2 493.3L239.2 488.3Z" />
<path class="m" d="M250.8 482.5L252.3 483.6L250.8 494.3L249.2 493.3"/>
<ellipse class="m" cx="244.4" cy="485" rx="2.4" ry="3.3" transform="rotate(25 244.4 485)"/>
<!-- bottom tab -->
<path class="mw" d="M241.3 539L250.5 540.8L251.5 548.3L242.5 548.8L240.8 546.5Z"/>
<ellipse class="m" cx="246" cy="543.6" rx="2.1" ry="2.5"/>
</g>

<!-- 55_calplate.svg -->
<g id="calplate">
<path class="lw" d="M285 458L270 472L268 490L300 500L308.1 493.2L343.2 471.8C345.5 469 346.5 466 346.3 462.6C345.8 459.5 344 457 341.7 455L332.5 448.9L335 430L275 415L268 440Z" />
<path d="M268 440L270 472L268 490L300 500L275 415Z" fill="#fff" stroke="none"/>
<path class="l" d="M285.1 458L269.9 471.8M287 459.3L272 473"/>
<circle class="l" cx="338.6" cy="464.2" r="2.3"/>
</g>

<!-- 56_hub.svg -->
<g id="hub">
<!-- rear barrel -->
<ellipse class="lw" cx="272" cy="494" rx="16.5" ry="22.5" transform="rotate(31.4 272 494)"/>
<ellipse class="lw" cx="275.5" cy="495.3" rx="16.8" ry="22.8" transform="rotate(31.4 275.5 495.3)"/>
<ellipse class="lw" cx="279" cy="496" rx="15.8" ry="21.6" transform="rotate(31.4 279 496)"/>
<!-- flange -->
<ellipse class="mw" cx="286.6" cy="498.2" rx="16.8" ry="22.6" transform="rotate(31.4 286.6 498.2)"/>
<ellipse class="mw" cx="288.6" cy="498.8" rx="16.8" ry="22.6" transform="rotate(31.4 288.6 498.8)"/>
<circle class="l" cx="300" cy="486.8" r="1.7"/>
<!-- bearing -->
<ellipse cx="285" cy="503.3" rx="10" ry="13.4" transform="rotate(31.4 285 503.3)" fill="#fff" stroke="#555" stroke-width="1.6"/>
<ellipse cx="285.4" cy="503.5" rx="7.6" ry="10.2" transform="rotate(31.4 285.4 503.5)" fill="#fff" stroke="#666" stroke-width="1"/>
</g>

<!-- 57_axle9.svg -->
<g id="axle9">
<path d="M288.5 494.3L375 547L368.5 560.4L283 511.8C280 506 283 497 288.5 494.3Z" fill="#fff" stroke="none"/>
<path class="m" d="M290 495L375 547M284.5 512.6L368.5 560.4"/>
<path class="m" d="M288.5 494.3C283.5 497 280.8 505 283 511.8"/>
<ellipse class="lw" cx="371.7" cy="553.8" rx="4.6" ry="7.6" transform="rotate(-28 371.7 553.8)"/>
<path d="M376.5 548.6L390.6 557L385.4 568L372.5 560.6C370 556 371.5 550.5 376.5 548.6Z" fill="#7c7c7c" stroke="#6a6a6a" stroke-width=".8" stroke-linejoin="round"/>
<path d="M377.5 549.5L373.5 560.6M380 551L375.6 562M382.5 552.5L378 563.5M385 554L380.5 565M387.5 555.5L383 566.5" stroke="#585858" stroke-width=".7" fill="none"/>
<ellipse class="mw" cx="389.4" cy="562.8" rx="4.2" ry="6" transform="rotate(-28 389.4 562.8)"/>
</g>

<!-- 58_caliper.svg -->
<g id="caliper">
<!-- upper-left housing -->
<path class="lw" d="M272.9 432.1L273.7 416.8C274.2 412.8 276.3 410.6 279 409.9L285.9 411.5C288 413.5 289.3 416.5 289.7 419.9L295.8 417.6L300.4 422.2L302.7 428.3L294.3 432.8L286.7 432.1L276 438.2Z"/>
<path class="l" d="M278.3 416.8V431.5M282.9 411L286.7 416.8V431"/>
<!-- right arm flat bar -->
<path class="mw" d="M311.1 429.8L335.6 425.2L336.3 432.1L317.2 438.2Z"/>
<path class="dw" stroke-width="1" d="M323.3 439L335.6 435.1L336.3 442.8L332.5 445.8Z"/>
<!-- roller -->
<path class="mw" d="M324.1 412.6L329.4 410.7C333.5 409.8 338.5 411.6 340.1 416C340.6 419 339.5 421.5 337.1 422.9L329.4 424.4L324.1 421Z"/>
<ellipse class="mw" cx="337.5" cy="417" rx="2.6" ry="5" transform="rotate(-15 337.5 417)"/>
<!-- lever blob -->
<path class="dw" stroke-width="1.15" d="M294.3 432.8L303.5 429.8C306.5 430 309 431 311.1 432.8C313.5 434.8 315.5 437 317.2 439.7C318.8 441.8 319.8 443.8 320.3 445.8C320.5 448 320 450 318.8 452C317.2 454.5 315 456.3 312.7 457.3C311 458 309 458.3 307.3 458.1C304.8 457.2 302.5 455.5 300.4 453.5L294.3 450.4L288.2 445.8C286.5 441 288.5 435.5 294.3 432.8Z"/>
<path class="d" stroke-width="1.1" d="M295.8 438.2C298 440.5 300.5 441.5 303.5 441.3C307 441 310.5 439.8 312.7 438.2M292.5 448.9C295.5 451.5 299.5 452.6 302.7 451.2C304.2 450.5 305.2 451.5 305.7 452.8C306.2 454.5 306.8 456.5 307.3 458.1"/>
<path class="d" stroke-width="1.1" d="M300.4 422.9L302.7 428.3L308.8 422.9L311.1 427.5L318.8 424.4L324.9 419.9"/>
<path class="m" d="M288.2 419.9L295.8 417.6"/>
<!-- strap -->
<path class="mw" d="M276 438.2L286.7 432.1L294.3 432.8L295.8 438.2L283.6 445.8L278.3 441.3Z"/>
<!-- bolts -->
<g>
<circle cx="290.9" cy="442" r="4.5" fill="#fff" stroke="#555" stroke-width="1"/><circle cx="290.9" cy="442" r="2.6" fill="#d8d8d8" stroke="#444" stroke-width="1.2"/>
<circle cx="290" cy="461.1" r="4.5" fill="#fff" stroke="#555" stroke-width="1"/><circle cx="290" cy="461.1" r="2.6" fill="#d8d8d8" stroke="#444" stroke-width="1.2"/>
<circle cx="328.7" cy="445.8" r="4.5" fill="#fff" stroke="#555" stroke-width="1"/><circle cx="328.7" cy="445.8" r="2.6" fill="#d8d8d8" stroke="#444" stroke-width="1.2"/>
<circle cx="324.1" cy="416.8" r="4.1" fill="#fff" stroke="#555" stroke-width="1"/><circle cx="324.1" cy="416.8" r="2.2" fill="#d8d8d8" stroke="#444" stroke-width="1.2"/>
</g>
<!-- small block + stem -->
<path class="mw" d="M264.5 454H276V464.2L266.8 465.7Z"/>
<path class="dw" stroke-width="1" d="M263 442L272.9 440.5L280.6 445.8L279.8 451.2L268.3 453.5L263 448.9Z"/>
<path class="m" d="M263 442L269 446.8L280.6 445.8M269 446.8L268.3 453.5"/>
<ellipse cx="270.6" cy="443.6" rx="4.2" ry="2" fill="#fff" stroke="#444" stroke-width="1.1"/>
</g>

<!-- 90_leaders.svg -->
<g id="leaders">
<path class="ld" d="M53 145.5H404"/><circle class="dot" cx="404.2" cy="145.6" r="2.6"/>
<path class="ld" d="M53 224.5H348"/><circle class="dot" cx="348.4" cy="224.6" r="2.6"/>
<path class="ld" d="M53 330.5H437"/><circle class="dot" cx="441" cy="330.5" r="2.6"/>
<path class="ld" d="M503 360.5H613"/><circle class="dot" cx="503" cy="360.5" r="2.6"/>
<path class="ld" d="M581 410H690"/><circle class="dot" cx="581" cy="410" r="2.6"/>
<path class="ld" d="M458 485.5L575 484"/><circle class="dot" cx="457.5" cy="485.5" r="2.6"/>
<path class="ld" d="M460 506L575 505.5"/><circle class="dot" cx="460" cy="506" r="2.6"/>
<path class="ld" d="M455.5 529V583"/><circle class="dot" cx="455.4" cy="528.5" r="2.6"/>
<path class="ld" d="M325 528V582"/><circle class="dot" cx="325" cy="528" r="2.6"/>
<path class="ld" d="M247.2 551.8V582"/><circle class="dot" cx="247.2" cy="551.8" r="2.6"/>
<path class="ld" d="M30 543.4H176"/><circle class="dot" cx="175.8" cy="543.3" r="2.6"/>
<path class="ld" d="M28 451.3H102"/><circle class="dot" cx="101.7" cy="451.3" r="2.6"/>
<path class="ld" d="M28 489.2L61.3 492"/><circle class="dot" cx="61.3" cy="492" r="2.6"/>
</g>
<g id="labels" text-anchor="middle">
<text x="44" y="151.2">1</text>
<text x="44" y="229.5">2</text>
<text x="44" y="335.5">3</text>
<text x="620" y="365">4</text>
<text x="248" y="602.3">5</text>
<text x="21.7" y="548.3">6</text>
<text x="19.2" y="456.7">7</text>
<text x="19.6" y="496.3">8</text>
<text x="323.4" y="597.8">9</text>
<text x="455" y="597.9">10</text>
<text x="584.4" y="511.2">11</text>
<text x="584.4" y="489.2">12</text>
<text x="700.2" y="415.3">13</text>
</g>

</svg>
</body></html>
